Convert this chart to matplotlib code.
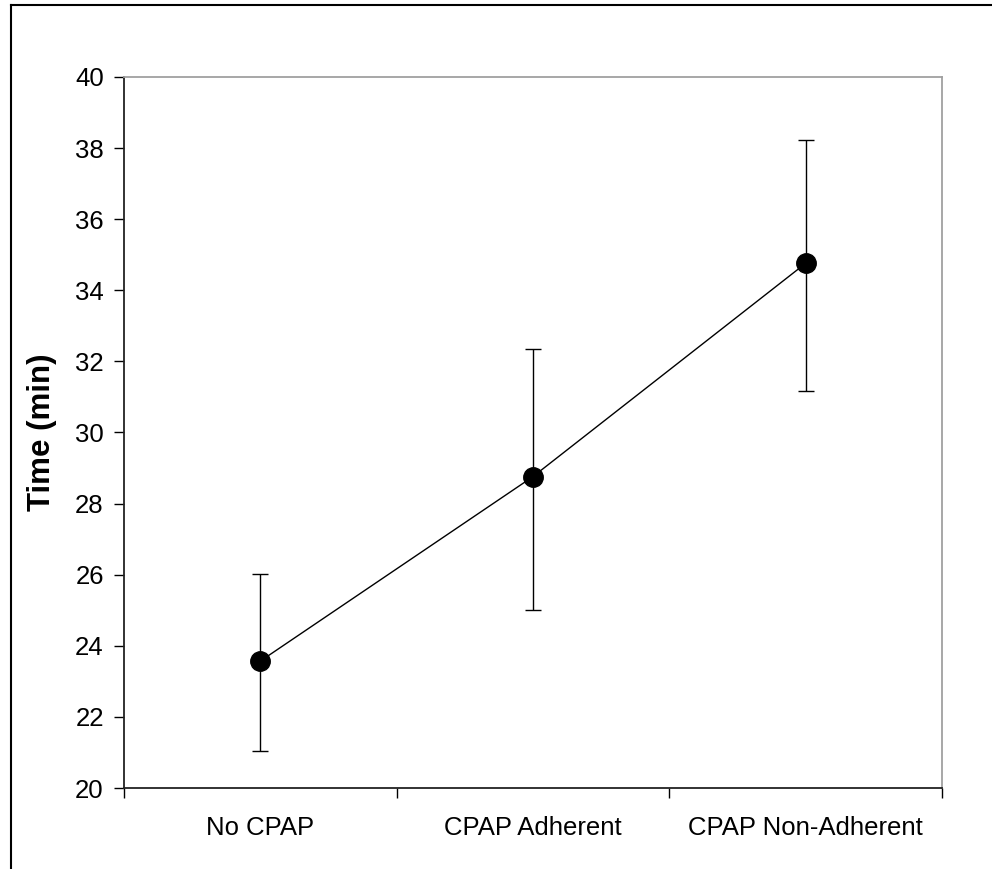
import matplotlib
matplotlib.use("Agg")
import matplotlib.pyplot as plt
from matplotlib.lines import Line2D
import numpy as np

plt.rcParams['font.family'] = ['Liberation Sans', 'DejaVu Sans']

groups = ["No CPAP", "CPAP Adherent", "CPAP Non-Adherent"]
mean_time = [23.57, 28.76, 34.76]
err_low = [2.52, 3.74, 3.58]
err_high = [2.45, 3.59, 3.47]
y_ticks = [20, 22, 24, 26, 28, 30, 32, 34, 36, 38, 40]

W, H = 992, 869
fig = plt.figure(figsize=(W / 100, H / 100), dpi=100)
ax = fig.add_axes([124 / W, 1 - 788 / H, (942 - 124) / W, (788 - 77) / H])

x = np.arange(len(groups))
ax.errorbar(x, mean_time, yerr=[err_low, err_high], fmt='o', color='black',
            ecolor='black', elinewidth=1.0, capsize=5.5, capthick=1.0,
            markersize=14, zorder=3)
ax.plot(x, mean_time, color='black', linewidth=1.0, zorder=2)

ax.set_xlim(-0.5, len(groups) - 0.5)
ax.set_ylim(20, 40)
ax.set_yticks(y_ticks)
ax.set_yticklabels([str(v) for v in y_ticks], fontsize=18.5)

ax.set_xticks(x)
ax.set_xticklabels(groups, fontsize=18.5)
ax.set_xticks(np.arange(-0.5, len(groups), 1.0), minor=True)
ax.tick_params(axis='x', which='major', length=0, pad=20)
ax.tick_params(axis='x', which='minor', length=7, width=1.0, direction='out')
ax.tick_params(axis='y', which='major', length=7, width=1.0, direction='out', pad=7.5)

ax.set_ylabel("Time (min)", fontsize=22.5, fontweight='bold', labelpad=13)

for side in ('left', 'bottom'):
    ax.spines[side].set_color('#222222')
    ax.spines[side].set_linewidth(1.3)
for side in ('top', 'right'):
    ax.spines[side].set_color('#a0a0a0')
    ax.spines[side].set_linewidth(1.3)

# outer chart frame
fx = 10.5 / W
fy = 1 - 4.5 / H
fig.add_artist(Line2D([fx, fx], [0, fy], transform=fig.transFigure,
                      color='black', linewidth=1.5))
fig.add_artist(Line2D([fx, 1], [fy, fy], transform=fig.transFigure,
                      color='black', linewidth=1.5))

fig.savefig("out.png", dpi=100)
